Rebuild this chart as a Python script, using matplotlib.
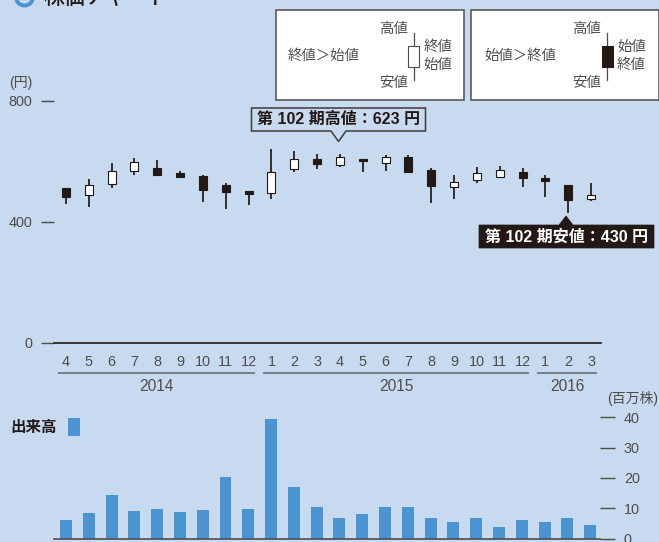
import matplotlib
matplotlib.use('Agg')
import matplotlib.pyplot as plt
from matplotlib.patches import Rectangle, Polygon, Circle

plt.rcParams['font.family'] = ['Liberation Sans', 'Noto Sans CJK JP', 'DejaVu Sans']

# 株価 (2014/4 - 2016/3)
months = [4, 5, 6, 7, 8, 9, 10, 11, 12, 1, 2, 3, 4, 5, 6, 7, 8, 9, 10, 11, 12, 1, 2, 3]
opens = [510, 489, 524, 569, 578, 561, 551, 521, 501, 494, 573, 607,
         587, 606, 593, 615, 572, 516, 538, 549, 565, 546, 521, 474]
closes = [483, 521, 569, 597, 554, 547, 504, 498, 493, 565, 607, 592,
          613, 600, 615, 565, 518, 530, 560, 570, 546, 535, 472, 488]
highs = [510, 541, 593, 610, 604, 568, 554, 528, 501, 640, 634, 623,
         624, 608, 620, 620, 577, 554, 581, 584, 577, 554, 521, 528]
lows = [459, 450, 513, 556, 552, 547, 466, 442, 456, 475, 565, 575,
        580, 565, 568, 561, 463, 475, 528, 549, 515, 482, 430, 470]
volumes = [6.05, 8.4, 14.3, 9.0, 9.7, 8.7, 9.35, 20.2, 9.7, 39.4, 16.9, 10.3,
           6.7, 8.0, 10.3, 10.3, 6.7, 5.4, 6.7, 3.7, 6.05, 5.4, 6.7, 4.4]
years = [('2014', 0, 8), ('2015', 9, 20), ('2016', 21, 23)]
price_ticks = [0, 400, 800]
volume_ticks = [0, 10, 20, 30, 40]

BG = '#C7DAF0'
INK = '#231815'
GRAY = '#4f4d4c'
BLUE = '#4A94D2'
W, H = 659, 542
PT = 0.72  # px -> pt a 100 dpi
STEP = 22.83
X0 = 66

fig = plt.figure(figsize=(W / 100, H / 100), dpi=100, facecolor=BG)


def axes_px(left, top, right, bottom):
    return fig.add_axes([left / W, 1 - bottom / H, (right - left) / W, (bottom - top) / H])


xlim = ((54 - X0) / STEP, (601 - X0) / STEP)
x = list(range(len(months)))

# 株価チャート
ax = axes_px(54, 95, 601, 343)
ax.set_facecolor('none')
ax.set_xlim(xlim)
ax.set_ylim(0, 248 / 0.303)
for s in ['top', 'right', 'left']:
    ax.spines[s].set_visible(False)
ax.spines['bottom'].set_color(INK)
ax.spines['bottom'].set_linewidth(1.2)
ax.vlines(x, lows, highs, color=INK, lw=1.25, zorder=2)
for i in x:
    up = closes[i] > opens[i]
    lo = min(opens[i], closes[i])
    ax.bar(i, abs(closes[i] - opens[i]), bottom=lo, width=0.35, zorder=3,
           color='white' if up else INK, edgecolor=INK, linewidth=0.8)
ax.set_yticks(price_ticks)
ax.tick_params(axis='y', length=13 * PT, width=1, color=GRAY, pad=9 * PT,
               labelsize=10.4, labelcolor=GRAY)
ax.set_xticks(x)
ax.set_xticklabels(months)
ax.tick_params(axis='x', length=0, pad=12 * PT, labelsize=10.4, labelcolor=GRAY)

# 出来高
ax2 = axes_px(54, 410, 600, 538.5)
ax2.set_facecolor('none')
ax2.set_xlim(xlim)
ax2.set_ylim(0, 128.5 / 3.03)
for s in ['top', 'right', 'left']:
    ax2.spines[s].set_visible(False)
ax2.spines['bottom'].set_color(GRAY)
ax2.spines['bottom'].set_linewidth(1.2)
ax2.bar(x, volumes, width=12 / STEP, color=BLUE)
ax2.set_xticks([])
ax2.yaxis.tick_right()
ax2.set_yticks(volume_ticks)
ax2.tick_params(axis='y', length=15 * PT, width=1, color=GRAY, pad=9 * PT,
                labelsize=10.4, labelcolor=GRAY)

# 注記類はピクセル座標
ov = fig.add_axes([0, 0, 1, 1])
ov.set_xlim(0, W)
ov.set_ylim(H, 0)
ov.axis('off')
ov.patch.set_alpha(0)


def label(px, py, s, size=10.4, color=GRAY, ha='left', weight='normal'):
    ov.text(px, py, s, fontsize=size, color=color, ha=ha, va='center', fontweight=weight,
            family=['Liberation Sans', 'Noto Sans CJK JP'])


# タイトル
ov.add_patch(Circle((24.5, -3), 8.5, fill=False, ec=BLUE, lw=2.8))
label(43, -2, '株価チャート', size=15, color=INK, weight='medium')

label(9, 83, '(円)', size=10)
label(607, 399, '(百万株)', size=10)
label(10.5, 427, '出来高', size=11.2, color=INK, weight='bold')
ov.add_patch(Rectangle((68, 418), 12, 18, color=BLUE, lw=0))

# 年の区切り
for name, a, b in years:
    xa = X0 + STEP * a - 8
    xb = X0 + STEP * b + 6
    ov.plot([xa, xb], [372.5, 372.5], color='#6c6f73', lw=1.2, solid_capstyle='butt')
    label((xa + xb) / 2, 386.5, name, size=11.2, ha='center')


# 凡例ボックス
def legend_box(left, desc, upper, lower, fill, desc_x, cx):
    ov.add_patch(Rectangle((left, 9.5), 187.5, 90.5, fc='white', ec=GRAY, lw=1.1))
    label(desc_x, 55.5, desc, size=10.4)
    ov.plot([cx, cx], [33, 80], color=GRAY, lw=0.9)
    ov.add_patch(Rectangle((cx - 5.5, 46), 11, 21, fc=fill, ec=GRAY if fill == 'white' else INK, lw=0.8, zorder=3))
    label(cx - 6, 29.5, '高値', size=10.4, ha='right')
    label(cx - 6, 83, '安値', size=10.4, ha='right')
    label(cx + 10, 47, upper, size=10.4)
    label(cx + 10, 64.5, lower, size=10.4)


legend_box(276, '終値\uff1e始値', '終値', '始値', 'white', 288, 413.7)
legend_box(471, '始値\uff1e終値', '始値', '終値', INK, 484.5, 607)

# 吹き出し
ov.add_patch(Polygon([(251.5, 108), (425.5, 108), (425.5, 131), (346, 131), (338.5, 141.5), (331, 131), (251.5, 131)],
                     closed=True, fc=BG, ec='#3e3a39', lw=1.1))
label(338.5, 119.5, '第 102 期高値\uff1a623 円', size=11.5, color=INK, ha='center', weight='bold')
ov.add_patch(Polygon([(479, 248), (479, 225), (559, 225), (566, 216), (573, 225), (654, 225), (654, 248)],
                     closed=True, fc=INK, ec=INK, lw=0.5))
label(566.5, 237, '第 102 期安値\uff1a430 円', size=11.5, color='white', ha='center', weight='bold')

fig.savefig('out.png', dpi=100, facecolor=BG)
